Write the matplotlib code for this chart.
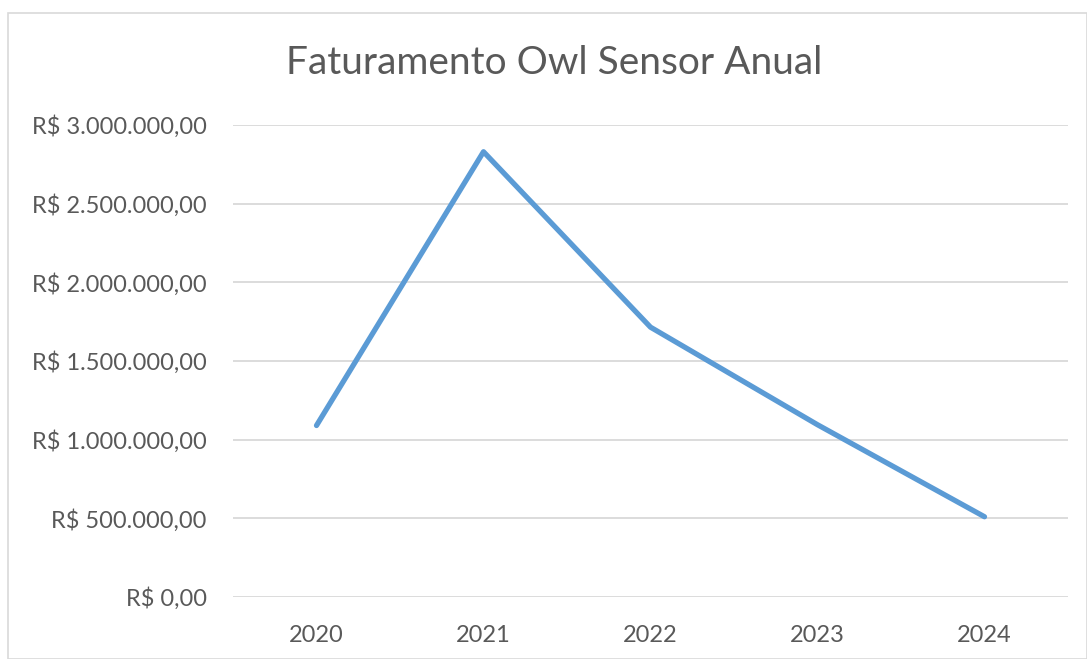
import matplotlib.pyplot as plt
from matplotlib.patches import Rectangle
from matplotlib.ticker import FuncFormatter

# Dados do gráfico
anos = ['2020', '2021', '2022', '2023', '2024']
faturamento = [1090000, 2830000, 1715000, 1095000, 510000]
ticks_y = [0, 500000, 1000000, 1500000, 2000000, 2500000, 3000000]

plt.rcParams['font.family'] = ['Lato', 'DejaVu Sans']
cinza = '#595959'


def formato_real(v, pos):
    s = f'{v:,.2f}'.replace(',', 'X').replace('.', ',').replace('X', '.')
    return 'R$ ' + s


fig = plt.figure(figsize=(10.87, 6.59), dpi=100)
fig.patches.append(Rectangle((8 / 1087, 0), 1 - 8 / 1087, 1 - 13 / 659,
                             transform=fig.transFigure, fill=False,
                             edgecolor='#d9d9d9', linewidth=1.2))

ax = fig.add_axes([233 / 1087, 1 - 597 / 659, (1068 - 233) / 1087, (597 - 125) / 659])
ax.plot(range(len(anos)), faturamento, color='#5B9BD5', linewidth=3.8,
        solid_capstyle='round', solid_joinstyle='round', zorder=3)

ax.set_xlim(-0.5, len(anos) - 0.5)
ax.set_ylim(0, 3000000)
ax.set_xticks(range(len(anos)))
ax.set_xticklabels(anos)
ax.set_yticks(ticks_y)
ax.yaxis.set_major_formatter(FuncFormatter(formato_real))
ax.grid(axis='y', color='#d9d9d9', linewidth=1.3)
ax.set_axisbelow(True)
for s in ax.spines.values():
    s.set_visible(False)
ax.tick_params(axis='both', length=0, labelsize=17, colors=cinza)
ax.tick_params(axis='y', pad=19)
ax.tick_params(axis='x', pad=20)

fig.text(554 / 1087, 1 - 63 / 659, 'Faturamento Owl Sensor Anual', ha='center', va='center',
         fontsize=28, color=cinza)

fig.savefig('out.png', dpi=100)
